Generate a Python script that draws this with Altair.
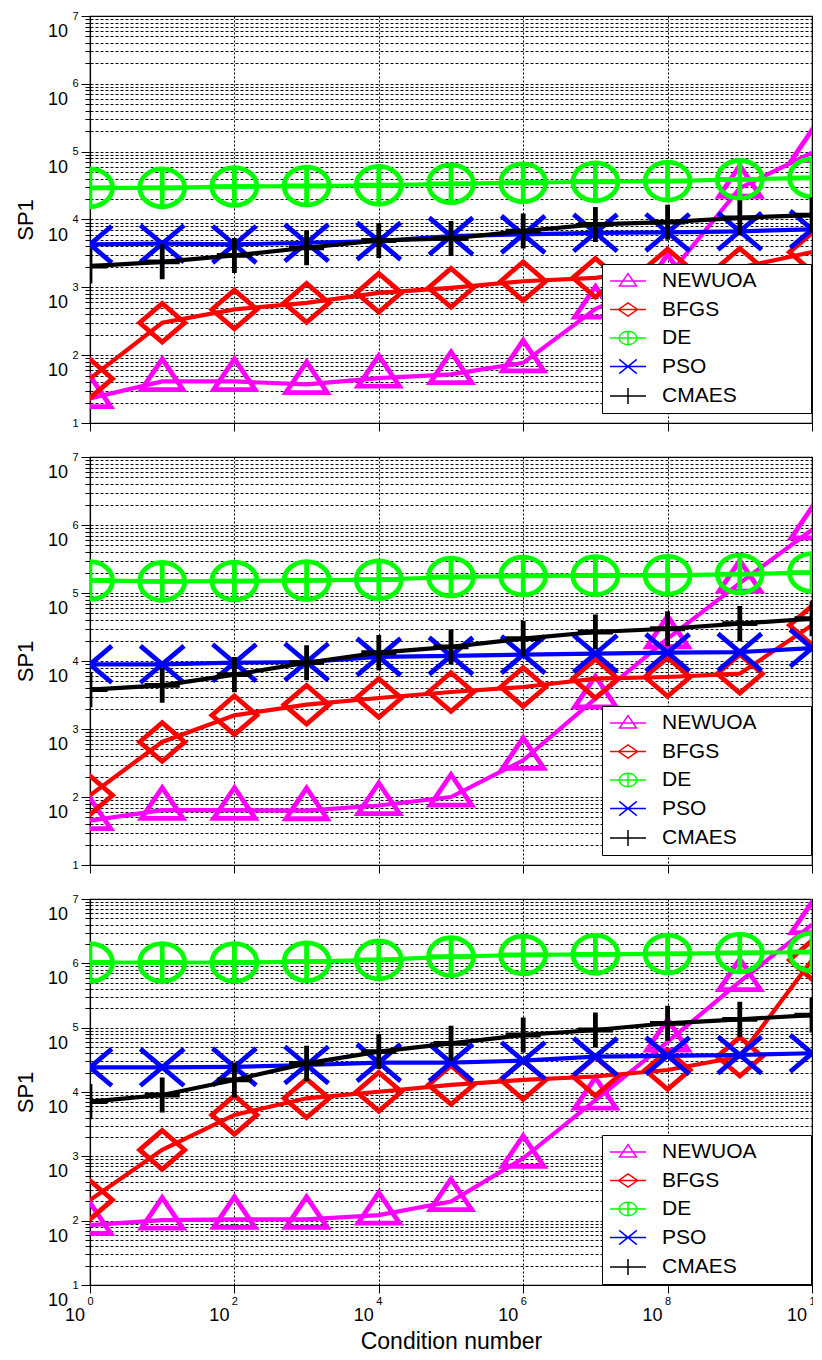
import altair as alt
import pandas as pd

FONT = "Liberation Sans"

# ---------------- data ----------------
condition = [1e0, 1e1, 1e2, 1e3, 1e4, 1e5, 1e6, 1e7, 1e8, 1e9, 1e10]
algorithms = ["NEWUOA", "BFGS", "DE", "PSO", "CMAES"]

# panel 1 (top)
p1_newuoa = [23, 41, 41, 37, 46, 52, 77, 480, 1430, 29000, 97000]
p1_bfgs = [45, 300, 472, 590, 830, 984, 1230, 1380, 1900, 1950, 3300]
p1_de = [29300, 29300, 30600, 31200, 32000, 33600, 34800, 36000, 36800, 39000, 41200]
p1_pso = [4290, 4400, 4290, 4540, 4800, 5690, 6030, 6370, 6450, 6700, 7150]
p1_cmaes = [2060, 2380, 2950, 3830, 4900, 5250, 6760, 8450, 9120, 10600, 11600]

# panel 2 (middle)
p2_newuoa = [45, 64, 64, 63, 75, 100, 347, 2790, 21300, 140000, 850000]
p2_bfgs = [106, 645, 1590, 2280, 2860, 3500, 4150, 5500, 5820, 6500, 33500]
p2_de = [153000, 148000, 150000, 153000, 157000, 172000, 178000, 180000, 182000, 190000, 200000]
p2_pso = [8940, 8940, 9440, 9670, 11500, 11900, 12400, 12800, 13300, 13500, 15500]
p2_cmaes = [3790, 4390, 6300, 9440, 13300, 16100, 21300, 26700, 29800, 35500, 41800]

# panel 3 (bottom)
p3_newuoa = [85, 102, 105, 105, 122, 198, 933, 7500, 60000, 520000, 4000000]
p3_bfgs = [210, 1260, 4400, 7980, 10100, 12900, 15400, 17400, 22000, 35500, 1130000]
p3_de = [1030000, 1030000, 1030000, 1060000, 1130000, 1270000, 1350000, 1380000, 1400000, 1450000, 1500000]
p3_pso = [24200, 24200, 24600, 26300, 28600, 28600, 30700, 35500, 36500, 37600, 40000]
p3_cmaes = [7080, 8980, 15400, 27900, 42500, 57100, 76900, 92000, 117000, 135000, 157000]

# tick values / labels
x_major = [1e0, 1e2, 1e4, 1e6, 1e8, 1e10]
y_decades = [1e1, 1e2, 1e3, 1e4, 1e5, 1e6, 1e7]
y_ticks = [m * 10 ** e for e in range(1, 7) for m in range(1, 10)] + [1e7]
base_text = "10"
x_title = "Condition number"
y_title = "SP1"

# ---------------- styles ----------------
colors = ["#ff00ff", "#ff0000", "#00ff00", "#0000ff", "#000000"]

marker_paths = [
    "M0,-1 L0.92,0.36 L-0.92,0.36 Z",
    "M-1,0 L0,-0.86 L1,0 L0,0.86 Z",
    "M-1,0 A1,0.84 0 1,0 1,0 A1,0.84 0 1,0 -1,0 Z M0,-0.84 L0,0.84 M-1,0 L1,0",
    "M-0.97,-0.82 L0.97,0.82 M-0.97,0.82 L0.97,-0.82",
    "M0,-0.78 L0,0.78 M-0.78,0 L0.78,0",
]
legend_paths = [
    "M-1.8,0 L1.8,0 M0,-0.75 L0.85,0.5 L-0.85,0.5 Z",
    "M-1.8,0 L1.8,0 M-0.95,0 L0,-0.65 L0.95,0 L0,0.65 Z",
    "M-1.8,0 L1.8,0 M-0.88,0 A0.88,0.67 0 1,0 0.88,0 A0.88,0.67 0 1,0 -0.88,0 Z M0,-0.67 L0,0.67",
    "M-1.8,0 L1.8,0 M-0.88,-0.72 L0.88,0.72 M-0.88,0.72 L0.88,-0.72",
    "M-1.8,0 L1.8,0 M0,-0.8 L0,0.8",
]

LOG = "log(datum.value)/LN10"
IS_DEC = "abs(" + LOG + " - round(" + LOG + ")) < 0.001"
EXP = "format(round(" + LOG + "), 'd')"
# the last x label is cut by the page edge in the reference: only its first digit shows
X_EXP = "round(" + LOG + ") == 10 ? '1' : " + EXP

PLOT_W = 722


def panel(values, height, legend_y, bottom):
    df = pd.concat(
        [pd.DataFrame({"cond": condition, "sp1": v, "alg": n}) for n, v in zip(algorithms, values)],
        ignore_index=True,
    )
    xscale = alt.Scale(type="log", domain=[1, 1e10])
    yscale = alt.Scale(type="log", domain=[10, 1e7])

    x_axis = alt.Axis(
        values=x_major,
        grid=True, gridDash=[2, 2], gridColor="black", gridWidth=1, gridOpacity=1,
        tickSize=8, tickColor="black", domainColor="black", domainWidth=1.2,
        labels=bottom,
        labelExpr=X_EXP, labelFont=FONT, labelFontSize=11, labelColor="black",
        labelPadding=2, labelOverlap=False, labelFlush=False, labelBaseline="top",
        title=x_title if bottom else None,
        titleFont=FONT, titleFontSize=23, titleFontWeight="normal", titleColor="black",
        titleY=63, titleBaseline="alphabetic",
    )
    y_axis = alt.Axis(
        values=y_ticks,
        grid=True, gridDash=[3, 2], gridColor="black", gridWidth=1, gridOpacity=0.95,
        tickSize={"condition": {"test": IS_DEC, "value": 9}, "value": 5},
        tickColor="black", domainColor="black", domainWidth=1.2,
        labelExpr=IS_DEC + " ? " + EXP + " : ''",
        labelFont=FONT, labelFontSize=11, labelColor="black", labelPadding=3,
        labelOverlap=False, labelFlush=False, labelBaseline="middle",
        title=y_title, titleFont=FONT, titleFontSize=22, titleFontWeight="normal",
        titleColor="black", titleAngle=270, titleX=-65, titleY=height / 2,
        titleAlign="center", titleBaseline="middle",
    )
    X = alt.X("cond:Q", scale=xscale, axis=x_axis)
    Y = alt.Y("sp1:Q", scale=yscale, axis=y_axis)

    layers = []
    for i, name in enumerate(algorithms):
        base = alt.Chart(df).transform_filter(alt.datum.alg == name)
        layers.append(base.mark_line(color=colors[i], strokeWidth=4.2, clip=True).encode(x=X, y=Y))
        layers.append(
            base.mark_point(shape=marker_paths[i], size=2025, filled=False, color=colors[i],
                            strokeWidth=4.8, opacity=1, clip=True).encode(x=X, y=Y)
        )

    legend_obj = alt.Legend(
        title="\u200b", titleOrient="right", titlePadding=48, titleFontSize=4,
        orient="none", legendX=512, legendY=legend_y,
        padding=6, strokeColor="black", fillColor="white", cornerRadius=0,
        symbolSize=400, symbolStrokeWidth=1.5, symbolOffset=9,
        labelOffset=23, labelFont=FONT, labelFontSize=21, labelColor="black",
        labelLimit=400, rowPadding=7.5,
    )
    legend_layer = alt.Chart(df).transform_filter("false").mark_point(
        filled=False, strokeWidth=1.5, opacity=1, size=400
    ).encode(
        x=X, y=Y,
        stroke=alt.Stroke("alg:N", scale=alt.Scale(domain=algorithms, range=colors), legend=legend_obj),
        shape=alt.Shape("alg:N", scale=alt.Scale(domain=algorithms, range=legend_paths), legend=legend_obj),
    )
    layers.append(legend_layer)

    ylab_vals = y_decades if bottom else y_decades[1:]
    ylab = alt.Chart(pd.DataFrame({"sp1": ylab_vals})).mark_text(
        align="right", baseline="middle", fontSize=18, font=FONT, color="black", dy=16
    ).encode(x=alt.value(-22), y=Y, text=alt.value(base_text))
    layers.append(ylab)

    if bottom:
        xlab = alt.Chart(pd.DataFrame({"cond": x_major})).mark_text(
            align="right", baseline="middle", fontSize=18, font=FONT, color="black", dx=-5
        ).encode(x=X, y=alt.value(height + 31), text=alt.value(base_text))
        layers.append(xlab)

    return alt.layer(*layers).properties(width=PLOT_W, height=height)


c1 = panel([p1_newuoa, p1_bfgs, p1_de, p1_pso, p1_cmaes], 407, 248, False)
c2 = panel([p2_newuoa, p2_bfgs, p2_de, p2_pso, p2_cmaes], 408, 249, False)
c3 = panel([p3_newuoa, p3_bfgs, p3_de, p3_pso, p3_cmaes], 386, 236, True)

chart = (
    alt.vconcat(c1, c2, c3, spacing=17)
    .resolve_scale(stroke="independent", shape="independent")
    .resolve_legend(stroke="independent", shape="independent")
    .properties(padding={"left": 5, "top": 1, "right": -3, "bottom": 0}, background="white")
    .configure_view(stroke="black", strokeWidth=1.2)
)

chart.save("out.html", embed_options={"renderer": "svg", "actions": False})
